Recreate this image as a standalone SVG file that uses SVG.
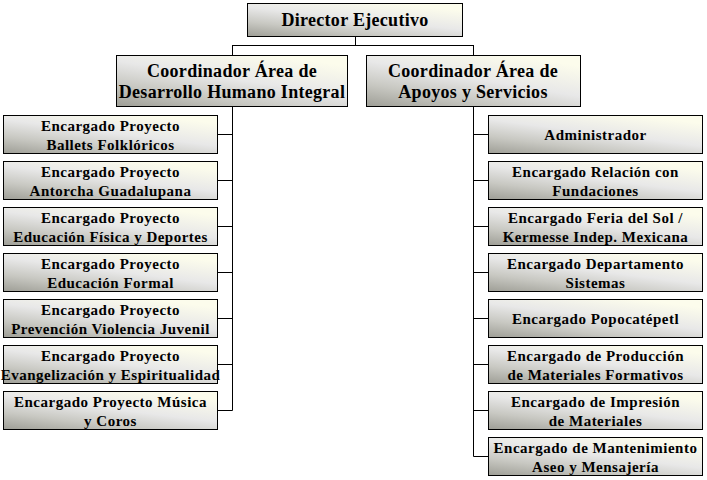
<svg xmlns="http://www.w3.org/2000/svg" width="707" height="480" viewBox="0 0 707 480">
<defs>
<linearGradient id="g" x1="0" y1="1" x2="0.7" y2="0">
<stop offset="0" stop-color="#9e9e96"/>
<stop offset="0.3" stop-color="#c8c8c2"/>
<stop offset="0.6" stop-color="#e8e8e8"/>
<stop offset="1" stop-color="#fcfcec"/>
</linearGradient>
<style>
rect{fill:url(#g);stroke:#000;stroke-width:1}
text{font-family:"Liberation Serif","Times New Roman",serif;font-weight:bold;fill:#000;text-anchor:middle}
.big{font-size:18px;letter-spacing:0.3px}
.sm{font-size:15px;letter-spacing:0.5px}
#connectors path{stroke:#000;stroke-width:1;fill:none}
</style>
</defs>
<rect x="0" y="0" width="707" height="480" style="fill:#fff;stroke:none"/>
<g id="connectors">
<path d="M355.5,36 V45.5 M232.5,45.5 H473.5 M232.5,45 V55 M473.5,45 V55"/>
<path d="M232.5,106 V410.5 M217,134.5 H232.5 M217,180.5 H232.5 M217,226.5 H232.5 M217,272.5 H232.5 M217,318.5 H232.5 M217,364.5 H232.5 M217,410.5 H232.5"/>
<path d="M473.5,106 V456.5 M473.5,134.5 H488 M473.5,180.5 H488 M473.5,226.5 H488 M473.5,272.5 H488 M473.5,318.5 H488 M473.5,364.5 H488 M473.5,410.5 H488 M473.5,456.5 H488"/>
</g>
<g id="director"><rect x="247.5" y="3.5" width="215" height="33"/><text class="big" x="355" y="26">Director Ejecutivo</text></g>
<g id="coord-dhi"><rect x="116.5" y="55.5" width="231" height="51"/><text class="big" x="232" y="77">Coordinador Área de</text><text class="big" x="232" y="97.5">Desarrollo Humano Integral</text></g>
<g id="coord-as"><rect x="366.5" y="55.5" width="214" height="51"/><text class="big" x="473" y="77">Coordinador Área de</text><text class="big" x="473" y="97.5">Apoyos y Servicios</text></g>

<g id="l1"><rect x="3.5" y="115.5" width="214" height="38"/><text class="sm" x="110.5" y="131">Encargado Proyecto</text><text class="sm" x="110.5" y="149.5">Ballets Folklóricos</text></g>
<g id="l2"><rect x="3.5" y="161.5" width="214" height="38"/><text class="sm" x="110.5" y="177">Encargado Proyecto</text><text class="sm" x="110.5" y="195.5">Antorcha Guadalupana</text></g>
<g id="l3"><rect x="3.5" y="207.5" width="214" height="38"/><text class="sm" x="110.5" y="223">Encargado Proyecto</text><text class="sm" x="110.5" y="241.5">Educación Física y Deportes</text></g>
<g id="l4"><rect x="3.5" y="253.5" width="214" height="38"/><text class="sm" x="110.5" y="269">Encargado Proyecto</text><text class="sm" x="110.5" y="287.5">Educación Formal</text></g>
<g id="l5"><rect x="3.5" y="299.5" width="214" height="38"/><text class="sm" x="110.5" y="315">Encargado Proyecto</text><text class="sm" x="110.5" y="333.5">Prevención Violencia Juvenil</text></g>
<g id="l6"><rect x="3.5" y="345.5" width="214" height="38"/><text class="sm" x="110.5" y="361">Encargado Proyecto</text><text class="sm" x="110.5" y="379.5">Evangelización y Espiritualidad</text></g>
<g id="l7"><rect x="3.5" y="391.5" width="214" height="38"/><text class="sm" x="110.5" y="407">Encargado Proyecto Música</text><text class="sm" x="110.5" y="425.5">y Coros</text></g>

<g id="r1"><rect x="488.5" y="115.5" width="214" height="38"/><text class="sm" x="595.5" y="139.5">Administrador</text></g>
<g id="r2"><rect x="488.5" y="161.5" width="214" height="38"/><text class="sm" x="595.5" y="177">Encargado Relación con</text><text class="sm" x="595.5" y="195.5">Fundaciones</text></g>
<g id="r3"><rect x="488.5" y="207.5" width="214" height="38"/><text class="sm" x="595.5" y="223">Encargado Feria del Sol /</text><text class="sm" x="595.5" y="241.5">Kermesse Indep. Mexicana</text></g>
<g id="r4"><rect x="488.5" y="253.5" width="214" height="38"/><text class="sm" x="595.5" y="269">Encargado Departamento</text><text class="sm" x="595.5" y="287.5">Sistemas</text></g>
<g id="r5"><rect x="488.5" y="299.5" width="214" height="38"/><text class="sm" x="595.5" y="323.5">Encargado Popocatépetl</text></g>
<g id="r6"><rect x="488.5" y="345.5" width="214" height="38"/><text class="sm" x="595.5" y="361">Encargado de Producción</text><text class="sm" x="595.5" y="379.5">de Materiales Formativos</text></g>
<g id="r7"><rect x="488.5" y="391.5" width="214" height="38"/><text class="sm" x="595.5" y="407">Encargado de Impresión</text><text class="sm" x="595.5" y="425.5">de Materiales</text></g>
<g id="r8"><rect x="488.5" y="437.5" width="214" height="38"/><text class="sm" x="595.5" y="453">Encargado de Mantenimiento</text><text class="sm" x="595.5" y="471.5">Aseo y Mensajería</text></g>
</svg>
